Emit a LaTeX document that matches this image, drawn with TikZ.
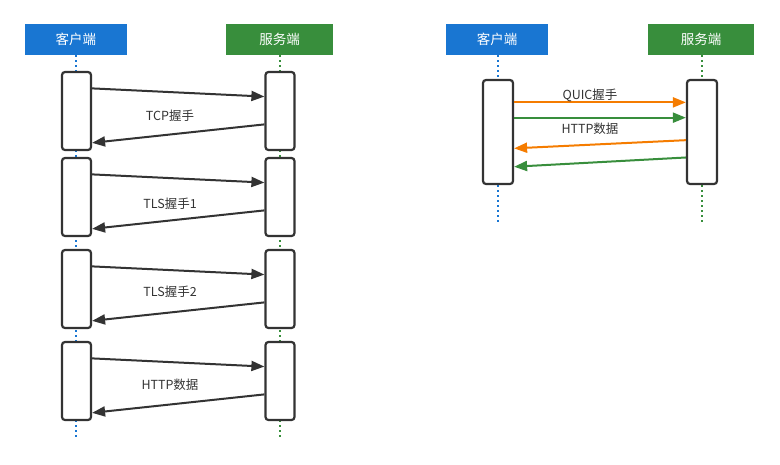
\documentclass[tikz,border=0pt]{standalone}
\usepackage{fontspec}
\setmainfont{Noto Sans CJK SC}
\usetikzlibrary{calc,arrows.meta}
\definecolor{cblue}{HTML}{1976D2}
\definecolor{cgreen}{HTML}{388E3C}
\definecolor{corange}{HTML}{F57C00}
\definecolor{cdark}{HTML}{333333}
\tikzset{
  hdr/.style={minimum height=31pt, inner sep=0pt, text=white, font=\fontsize{13.5}{15}\selectfont},
  act/.style={draw=cdark, line width=2.2pt, fill=white, rounded corners=3pt, minimum width=29pt, inner sep=0pt},
  life/.style={line width=1.8pt, dash pattern=on 2pt off 3pt},
  msg/.style={line width=2pt, -{Triangle[length=13pt,width=10pt]}},
  lbl/.style={text=cdark, font=\fontsize{12.5}{14}\selectfont, inner sep=0pt}
}
\begin{document}
\begin{tikzpicture}[x=1pt,y=-1pt]
\useasboundingbox (0,0) rectangle (780,464);
% headers
\node[hdr, fill=cblue, minimum width=102pt] (hc) at (76,39.5) {客户端};
\node[hdr, fill=cgreen, minimum width=107pt] (hs) at (279.5,39.5) {服务端};
\node[hdr, fill=cblue, minimum width=102pt] (rc) at (497,39.5) {客户端};
\node[hdr, fill=cgreen, minimum width=106pt] (rs) at (701,39.5) {服务端};
% lifeline ends
\coordinate (hcend) at (76,437);
\coordinate (hsend) at (280,437);
\coordinate (rcend) at (498,224);
\coordinate (rsend) at (702,224);
\draw[life, cblue] (hc.south -| hcend) -- (hcend);
\draw[life, cgreen] (hs.south -| hsend) -- (hsend);
\draw[life, cblue] (rc.south -| rcend) -- (rcend);
\draw[life, cgreen] (rs.south -| rsend) -- (rsend);
% left activation boxes
\foreach \i/\y in {1/111, 2/197, 3/289, 4/381} {
  \node[act, minimum height=78pt] (c\i) at (76.5,\y) {};
  \node[act, minimum height=78pt] (s\i) at (280,\y) {};
  \draw[msg, cdark] ($(c\i.north east)!0.218!(c\i.south east)$) -- ($(s\i.north west)!0.32!(s\i.south west)$);
  \draw[msg, cdark] ($(s\i.north west)!0.667!(s\i.south west)$) -- ($(c\i.north east)!0.897!(c\i.south east)$);
}
\node[lbl] (l1) at (170,116) {TCP握手};
\node[lbl] (l2) at (170,204) {TLS握手1};
\node[lbl] (l3) at (170,292) {TLS握手2};
\node[lbl] (l4) at (170,385) {HTTP数据};
% right activation boxes
\node[act, minimum height=104pt, minimum width=30pt] (qc) at (498,132) {};
\node[act, minimum height=104pt, minimum width=30pt] (qs) at (702,132) {};
\draw[msg, corange] ($(qc.north east)!0.221!(qc.south east)$) -- ($(qs.north west)!0.221!(qs.south west)$);
\draw[msg, cgreen] ($(qc.north east)!0.365!(qc.south east)$) -- ($(qs.north west)!0.365!(qs.south west)$);
\draw[msg, corange] ($(qs.north west)!0.577!(qs.south west)$) -- ($(qc.north east)!0.654!(qc.south east)$);
\draw[msg, cgreen] ($(qs.north west)!0.74!(qs.south west)$) -- ($(qc.north east)!0.827!(qc.south east)$);
\node[lbl] (q1) at (590,95) {QUIC握手};
\node[lbl] (q2) at (590,129) {HTTP数据};
\end{tikzpicture}
\end{document}
